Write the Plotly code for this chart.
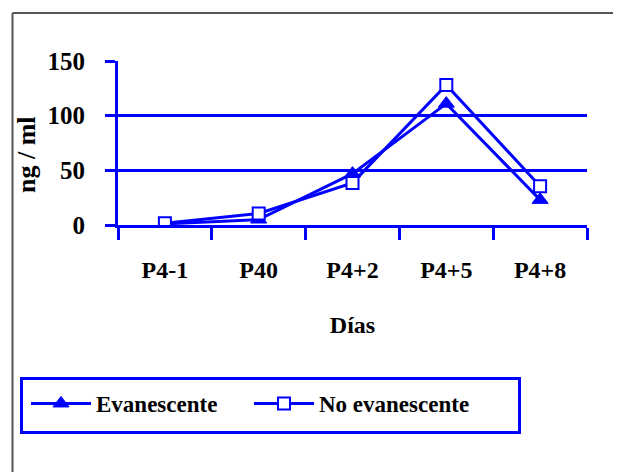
import plotly.graph_objects as go

categories = ["P4-1", "P40", "P4+2", "P4+5", "P4+8"]
evanescente = [1, 5, 47, 111, 23]
no_evanescente = [1.5, 10.5, 38.5, 128, 35.5]
y_ticks = [0, 50, 100, 150]
grid_ticks = [50, 100]

BLUE = "#0000FF"
FAMILY = "Liberation Serif"
FONT = dict(family=FAMILY, color="black", size=22, weight="bold")

# page has an 8px body margin; work in page pixels and convert
OFF = 8
W, H = 621 - OFF, 472 - OFF
PL, PR, PT, PB = 118, 587, 61, 225  # plot area in page pixels
ML, MR, MT, MB = PL - OFF, W - (PR - OFF), PT - OFF, H - (PB - OFF)
pw, ph = W - ML - MR, H - MT - MB


def px_x(p):
    return (p - OFF - ML) / pw


def px_y(p):
    return (H - MB - (p - OFF)) / ph


fig = go.Figure()
fig.add_trace(go.Scatter(
    x=categories, y=evanescente, name="Evanescente", mode="lines+markers",
    line=dict(color=BLUE, width=3),
    marker=dict(symbol="triangle-up", size=14, color=BLUE, line=dict(color=BLUE, width=1)),
))
fig.add_trace(go.Scatter(
    x=categories, y=no_evanescente, name="No evanescente", mode="lines+markers",
    line=dict(color=BLUE, width=3),
    marker=dict(symbol="square", size=12, color="white", line=dict(color=BLUE, width=2)),
))
# invisible trace so that the gridline axis is drawn
fig.add_trace(go.Scatter(x=[categories[0]], y=[None], yaxis="y2",
                         showlegend=False, hoverinfo="skip"))

fig.update_layout(
    width=W, height=H,
    margin=dict(l=ML, r=MR, t=MT, b=MB, autoexpand=False),
    paper_bgcolor="white", plot_bgcolor="white",
    font=FONT,
    showlegend=True,
    legend=dict(
        orientation="h", x=px_x(26), y=px_y(403.5), xanchor="left", yanchor="middle",
        borderwidth=0, bgcolor="rgba(0,0,0,0)",
        font=dict(family=FAMILY, size=23, color="black", weight="bold"),
        itemwidth=60, entrywidth=148, tracegroupgap=0,
    ),
    xaxis=dict(
        type="category", range=[-0.5, 4.5], tickson="boundaries",
        ticks="outside", ticklen=12, tickwidth=3, tickcolor=BLUE,
        showline=True, linewidth=3, linecolor=BLUE, showgrid=False,
        ticklabelstandoff=21,
        title=dict(text="Días", standoff=35, font=dict(size=24)),
        tickfont=dict(size=24),
    ),
    yaxis=dict(
        range=[0, 150], tickvals=y_ticks,
        ticks="outside", ticklen=10, tickwidth=3, tickcolor=BLUE,
        showline=True, linewidth=3, linecolor=BLUE, showgrid=False,
        zeroline=False, ticklabelstandoff=15, tickfont=dict(size=25),
    ),
    yaxis2=dict(
        range=[0, 150], overlaying="y", tickvals=grid_ticks,
        showticklabels=False, showgrid=True, gridcolor=BLUE, gridwidth=3,
        ticks="", showline=False, zeroline=False,
    ),
    annotations=[dict(
        text="ng / ml", textangle=-90, xref="paper", yref="paper",
        x=px_x(26), y=px_y(155), xanchor="center", yanchor="middle",
        showarrow=False, font=dict(size=26),
    )],
    shapes=[
        dict(type="line", xref="paper", yref="paper", x0=px_x(12.5), x1=px_x(12.5),
             y0=px_y(13), y1=px_y(480), line=dict(color="#555555", width=2)),
        dict(type="line", xref="paper", yref="paper", x0=px_x(12.5), x1=px_x(630),
             y0=px_y(13), y1=px_y(13), line=dict(color="#555555", width=2)),
        dict(type="rect", xref="paper", yref="paper", x0=px_x(21.5), x1=px_x(519.5),
             y0=px_y(378.5), y1=px_y(432.5), line=dict(color=BLUE, width=3)),
    ],
)

fig.write_html("out.html")
